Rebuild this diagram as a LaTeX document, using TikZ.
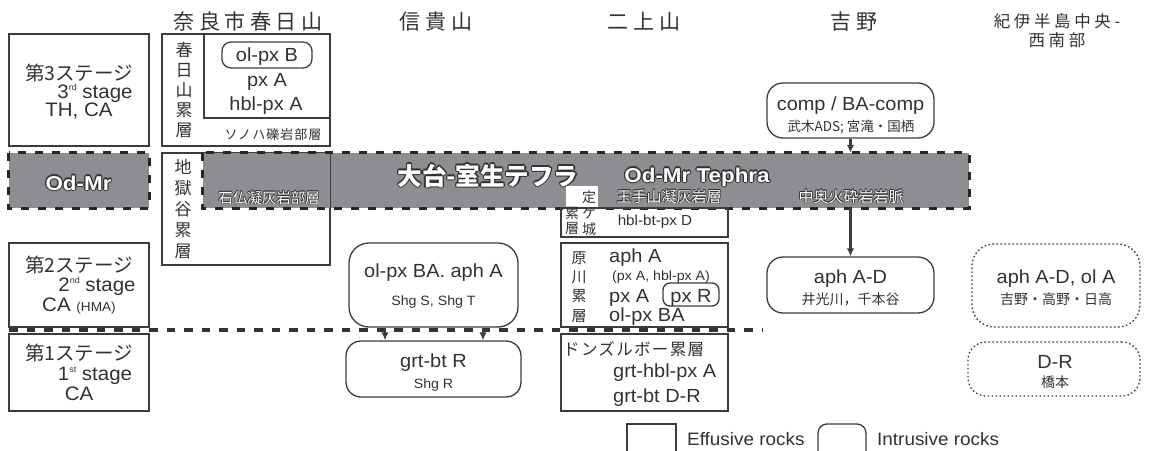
\documentclass[tikz,border=0pt]{standalone}
\usepackage{fontspec}
\setmainfont{Liberation Sans}[FakeStretch=1.05]
\newfontfamily\jp{Noto Sans CJK JP}
\newfontfamily\jpsp{Noto Sans CJK JP}[LetterSpace=22]
\newfontfamily\jpsm{Noto Sans CJK JP}[LetterSpace=8]
\newfontfamily\heavy{Liberation Sans}[FakeStretch=1.12]
\usetikzlibrary{arrows.meta,calc}
\definecolor{ink}{RGB}{50,50,50}
\definecolor{edge}{RGB}{60,60,60}
\definecolor{bandc}{RGB}{142,142,146}
\newcommand{\fs}[1]{\fontsize{#1}{#1}\selectfont}
\newcommand{\supr}[1]{\raisebox{7.5pt}{\fs{8.5}#1}}
\newcommand{\bx}[6]{\node[#6,minimum width={(#4-#2)*1pt},minimum height={(#5-#3)*1pt}] (#1) at ({(#2+#4)/2},{(#3+#5)/2}) {};}
\newcommand{\halo}[5]{%
  \foreach \hx/\hy in {1/0,-1/0,0/1,0/-1,.71/.71,-.71/.71,.71/-.71,-.71/-.71}{%
    \node[inner sep=0pt,anchor=base,font=#3,text=ink] at ($#2+(\hx*#4,\hy*#4)$) {#5};}
  \node[inner sep=0pt,anchor=base,font=#3,text=white] (#1) at #2 {#5};}
\begin{document}
\begin{tikzpicture}[x=1pt,y=-1pt,
  box/.style={draw=edge,line width=1.3pt,inner sep=0pt},
  rbox/.style={box,rounded corners=#1},
  dbox/.style={draw=edge,line width=1.3pt,inner sep=0pt,dash pattern=on 1.6pt off 2.4pt,rounded corners=#1},
  txt/.style={inner sep=0pt,anchor=base,text=ink},
  txtl/.style={inner sep=0pt,anchor=base west,text=ink},
  vtxt/.style={inner sep=0pt,anchor=center,text=ink,align=center},
  arr/.style={draw=edge,line width=2.4pt,-{Latex[length=8pt,width=7.5pt]}},
  bandstyle/.style={fill=bandc,draw=none,inner sep=0pt},
  dashb/.style={draw=black!85,line width=3.2pt,dash pattern=on 8pt off 9pt},
  dashl/.style={draw=black!80,line width=3.8pt,dash pattern=on 8.5pt off 9pt}]
\path[use as bounding box, fill=white] (0,0) rectangle (1149,450);
\clip (0,0) rectangle (1149,450);

% headers
\node[txt,font=\jpsp\fs{21}] (hA) at (248,29) {奈良市春日山};
\node[txt,font=\jpsp\fs{21}] (hB) at (436,29) {信貴山};
\node[txt,font=\jpsp\fs{21}] (hC) at (644,29) {二上山};
\node[txt,font=\jpsp\fs{21}] (hD) at (854,29) {吉野};
\node[txt,font=\jpsp\fs{16.5}] (hE1) at (1057,27) {紀伊半島中央-};
\node[txt,font=\jpsp\fs{16.5}] (hE2) at (1057,46) {西南部};

% stage boxes
\bx{s3}{9}{34}{149}{146}{box}
\node[txt,font=\jp\fs{19.5}] (s3a) at (79,80) {第3ステージ};
\node[txt,font=\fs{19.5}] (s3b) at (95,98) {3\supr{rd} stage};
\node[txt,font=\fs{19.5}] (s3c) at (79,116) {TH, CA};
\bx{s2}{9}{243}{149}{327}{box}
\node[txt,font=\jp\fs{19.5}] (s2a) at (79,272) {第2ステージ};
\node[txt,font=\fs{19.5}] (s2b) at (97,291) {2\supr{nd} stage};
\node[txt,font=\fs{19.5}] (s2c) at (79,311) {CA {\fs{13}(HMA)}};
\bx{s1}{9}{334}{149}{411}{box}
\node[txt,font=\jp\fs{19.5}] (s1a) at (79,360) {第1ステージ};
\node[txt,font=\fs{19.5}] (s1b) at (95,380) {1\supr{st} stage};
\node[txt,font=\fs{19.5}] (s1c) at (79,400) {CA};

% Kasugayama
\bx{kas}{162}{34}{330}{146}{box}
\draw[draw=edge,line width=1.3pt] (204,34) -- (204,118) -- (330,118);
\node[vtxt,font=\jp\fontsize{17}{20.2}\selectfont] (kasv) at (184,90) {春\\日\\山\\累\\層};
\bx{olpxb}{222}{42}{312}{68}{rbox=9pt}
\node[txt,font=\fs{19}] (olpxbt) at (267,61) {ol-px B};
\node[txt,font=\fs{19}] (kpxa) at (267,86) {px A};
\node[txt,font=\fs{19}] (khbl) at (266,110) {hbl-px A};
\node[txt,font=\jpsm\fs{13}] (sono) at (273,139) {ソノハ礫岩部層};

% Jigokudani box (under band)
\bx{jig}{162}{153}{330}{265}{box}

% tephra band
\bx{odmr}{9}{153}{149}{208}{bandstyle}
\bx{band}{203}{153}{969}{208}{bandstyle}
\draw[draw=edge,line width=1.3pt] (jig.north east) -- (jig.north east |- band.south);
\draw[dashb] (odmr.north west) rectangle (odmr.south east);
\draw[dashb] (band.north west) rectangle (band.south east);
\node[vtxt,font=\jp\fontsize{17}{21}\selectfont] (jigv) at (183,209) {地\\獄\\谷\\累\\層};

\halo{odmrt}{(78.5,190)}{\heavy\bfseries\fs{20}}{1.2}{Od-Mr}
\halo{ishi}{(269,203)}{\jp\fs{14.5}}{0.7}{石仏凝灰岩部層}
\halo{teph}{(488,185)}{\jp\bfseries\fs{24.5}}{1.4}{大台-室生テフラ}
\halo{tephe}{(697,182)}{\heavy\bfseries\fs{20}}{1.2}{Od-Mr Tephra}
\halo{tama}{(669,202)}{\jp\fs{15}}{0.7}{玉手山凝灰岩層}
\halo{naka}{(851,202)}{\jp\fs{15}}{0.7}{中奥火砕岩岩脈}

% Jogajo
\path[fill=white] (566,186) rectangle (598,209.5);
\bx{joga}{561}{208}{728}{237}{box}
\node[vtxt,font=\jp\fs{14}] (jg1) at (589,197) {定};
\node[vtxt,font=\jp\fs{14}] (jg2) at (589,213) {ケ};
\node[vtxt,font=\jp\fs{14}] (jg3) at (589,229) {城};
\node[vtxt,font=\jp\fs{14}] (jg4) at (572,213) {累};
\node[vtxt,font=\jp\fs{14}] (jg5) at (572,229) {層};
\node[txt,font=\fs{14.5}] (jgt) at (655,225) {hbl-bt-px D};

% Harakawa
\bx{hara}{561}{243}{728}{327}{box}
\node[vtxt,font=\jp\fontsize{15}{19.3}\selectfont] (harav) at (579,287) {原\\川\\累\\層};
\node[txtl,font=\fs{19}] (hr1) at (609,262) {aph A};
\node[txtl,font=\fs{13.5}] (hr2) at (612,280) {(px A, hbl-px A)};
\node[txtl,font=\fs{19}] (hr3) at (609,302) {px A};
\bx{pxr}{663}{283}{719}{306}{rbox=7pt}
\node[txt,font=\fs{19}] (pxrt) at (691,302) {px R};
\node[txtl,font=\fs{19}] (hr4) at (609,321) {ol-px BA};

% Donzurubo
\bx{don}{561}{334}{728}{411}{box}
\node[txtl,font=\jpsm\fs{16.5}] (don1) at (563,355) {ドンズルボー累層};
\node[txtl,font=\fs{19}] (don2) at (613,377) {grt-hbl-px A};
\node[txtl,font=\fs{19}] (don3) at (613,402) {grt-bt D-R};

% Shigisan
\bx{shg1}{349}{243}{518}{327}{rbox=20pt}
\node[txt,font=\fs{19}] (shg1a) at (433.5,277) {ol-px BA. aph A};
\node[txt,font=\fs{13.5}] (shg1b) at (433.5,305) {Shg S, Shg T};
\bx{shg2}{346}{341}{521}{397}{rbox=15pt}
\node[txt,font=\fs{19}] (shg2a) at (433.5,367) {grt-bt R};
\node[txt,font=\fs{13.5}] (shg2b) at (433.5,388) {Shg R};

% Yoshino
\bx{yos1}{767}{83}{934}{138}{rbox=16pt}
\node[txt,font=\fs{19}] (yos1a) at (850.5,110) {comp / BA-comp};
\node[txt,font=\jp\fs{13.5}] (yos1b) at (851,131) {武木ADS; 宮滝・国栖};
\bx{yos2}{767}{257}{934}{313}{rbox=16pt}
\node[txt,font=\fs{19}] (yos2a) at (850.5,283) {aph A-D};
\node[txt,font=\jp\fs{14}] (yos2b) at (850.5,304) {井光川，千本谷};

% Kii
\bx{kii1}{972}{244}{1140}{327}{dbox=22pt}
\node[txt,font=\fs{19}] (kii1a) at (1056,283) {aph A-D, ol A};
\node[txt,font=\jp\fs{14}] (kii1b) at (1056,304) {吉野・高野・日高};
\bx{kii2}{968}{342}{1140}{396}{dbox=18pt}
\node[txt,font=\fs{19}] (kii2a) at (1055,368) {D-R};
\node[txt,font=\jp\fs{14}] (kii2b) at (1055,387) {橋本};

% stage divider
\coordinate (dl1) at (9,330);
\coordinate (dl2) at (762,330);
\draw[dashl] (dl1) -- (dl2);

% arrows
\draw[arr] ([xshift=-48.5pt]shg1.south) -- ([xshift=-48.5pt]shg2.north);
\draw[arr] ([xshift=49.5pt]shg1.south) -- ([xshift=49.5pt]shg2.north);
\draw[arr] (yos1.south) -- (yos1.south |- band.north);
\draw[arr] (yos2.north |- band.south) -- (yos2.north);

% legend
\bx{leg1}{627}{424}{676}{462}{box}
\node[txtl,font=\fs{18}] (leg1t) at (687,445) {Effusive rocks};
\bx{leg2}{818}{424}{866}{462}{rbox=9pt}
\node[txtl,font=\fs{18}] (leg2t) at (877,445) {Intrusive rocks};
\end{tikzpicture}
\end{document}
